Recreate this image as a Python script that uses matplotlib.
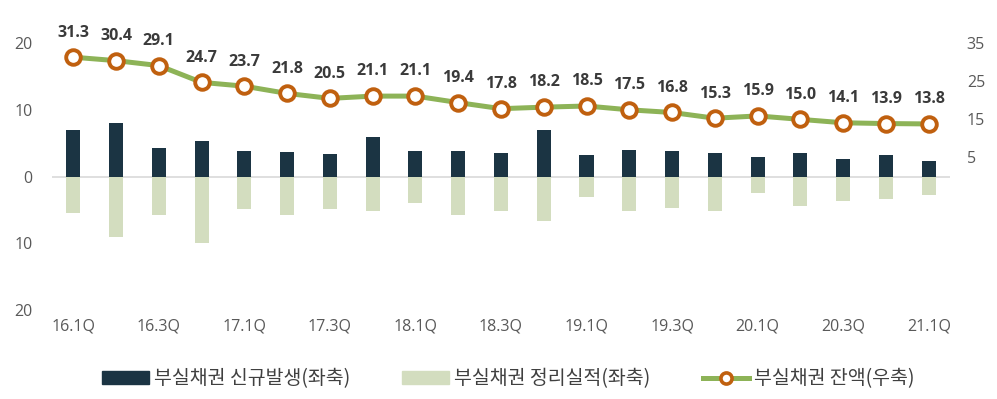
import matplotlib
matplotlib.use("Agg")
import matplotlib.pyplot as plt
from matplotlib.lines import Line2D
from matplotlib.patches import Patch

plt.rcParams['font.family'] = ['Open Sans', 'Noto Sans CJK KR', 'DejaVu Sans']

quarters = ["16.1Q", "16.2Q", "16.3Q", "16.4Q", "17.1Q", "17.2Q", "17.3Q", "17.4Q",
            "18.1Q", "18.2Q", "18.3Q", "18.4Q", "19.1Q", "19.2Q", "19.3Q", "19.4Q",
            "20.1Q", "20.2Q", "20.3Q", "20.4Q", "21.1Q"]
new_npl = [7.0, 8.1, 4.3, 5.4, 3.9, 3.7, 3.4, 5.9, 3.8, 3.9, 3.5,
           7.0, 3.2, 4.0, 3.9, 3.6, 2.9, 3.5, 2.6, 3.2, 2.4]
resolved = [-5.5, -9.1, -5.7, -9.9, -4.8, -5.8, -4.8, -5.2, -3.9, -5.7, -5.2,
            -6.7, -3.0, -5.1, -4.7, -5.2, -2.5, -4.4, -3.6, -3.4, -2.7]
balance = [31.3, 30.4, 29.1, 24.7, 23.7, 21.8, 20.5, 21.1, 21.1, 19.4, 17.8,
           18.2, 18.5, 17.5, 16.8, 15.3, 15.9, 15.0, 14.1, 13.9, 13.8]
left_ticks = [-20, -10, 0, 10, 20]
left_tick_labels = ["20", "10", "0", "10", "20"]
right_ticks = [5, 15, 25, 35]
right_tick_labels = ["5", "15", "25", "35"]
legend_labels = ["부실채권 신규발생(좌축)", "부실채권 정리실적(좌축)", "부실채권 잔액(우축)"]

DARK = "#1B3443"
LIGHT = "#D3DDBF"
GREEN = "#8DB357"
ORANGE = "#C0600F"
TXT = "#595959"

fig = plt.figure(figsize=(9.97, 3.99), dpi=100)
ax = fig.add_axes([0.052, 0.223, 0.901, 0.669])
ax2 = ax.twinx()

x = list(range(len(quarters)))
ax.bar(x, new_npl, width=0.33, color=DARK, zorder=2)
ax.bar(x, resolved, width=0.33, color=LIGHT, zorder=2)
ax.axhline(0, color="#D9D9D9", lw=1.2, zorder=1)

ax.set_xlim(-0.5, len(quarters) - 0.5)
ax.set_ylim(-20, 20)
ax.set_yticks(left_ticks)
ax.set_yticklabels(left_tick_labels)
ax.set_xticks(x[::2])
ax.set_xticklabels(quarters[::2])

ax2.plot(x, balance, color=GREEN, lw=3.6, marker='o', ms=10.5,
         mfc='white', mec=ORANGE, mew=2.8, zorder=3)
ax2.set_ylim(-35, 35)
ax2.set_yticks(right_ticks)
ax2.set_yticklabels(right_tick_labels)
for xi, v in zip(x, balance):
    ax2.annotate(f"{v:.1f}", (xi, v), xytext=(0, 12), textcoords='offset points',
                 ha='center', va='bottom', fontsize=11.5, fontweight='bold',
                 color="#3A3A3A", annotation_clip=False)

for a in (ax, ax2):
    for s in a.spines.values():
        s.set_visible(False)
ax.tick_params(axis='both', length=0, labelsize=11.5, colors=TXT)
ax.tick_params(axis='x', pad=6)
ax.tick_params(axis='y', pad=14)
ax2.tick_params(axis='y', length=0, labelsize=11.5, colors=TXT, pad=12)

handles = [Patch(color=DARK), Patch(color=LIGHT),
           Line2D([0], [0], color=GREEN, lw=3.6, marker='o', ms=8,
                  mfc='white', mec=ORANGE, mew=2.6)]
leg = fig.legend(handles, legend_labels, loc='lower center', ncol=3, frameon=False,
                 bbox_to_anchor=(0.51, -0.02), handlelength=2.4,
                 handleheight=0.6, columnspacing=2.7, handletextpad=0.25,
                 prop={'family': ['Noto Sans CJK KR', 'DejaVu Sans'], 'size': 14},
                 labelcolor="#404040")

fig.savefig("out.png", dpi=100)
